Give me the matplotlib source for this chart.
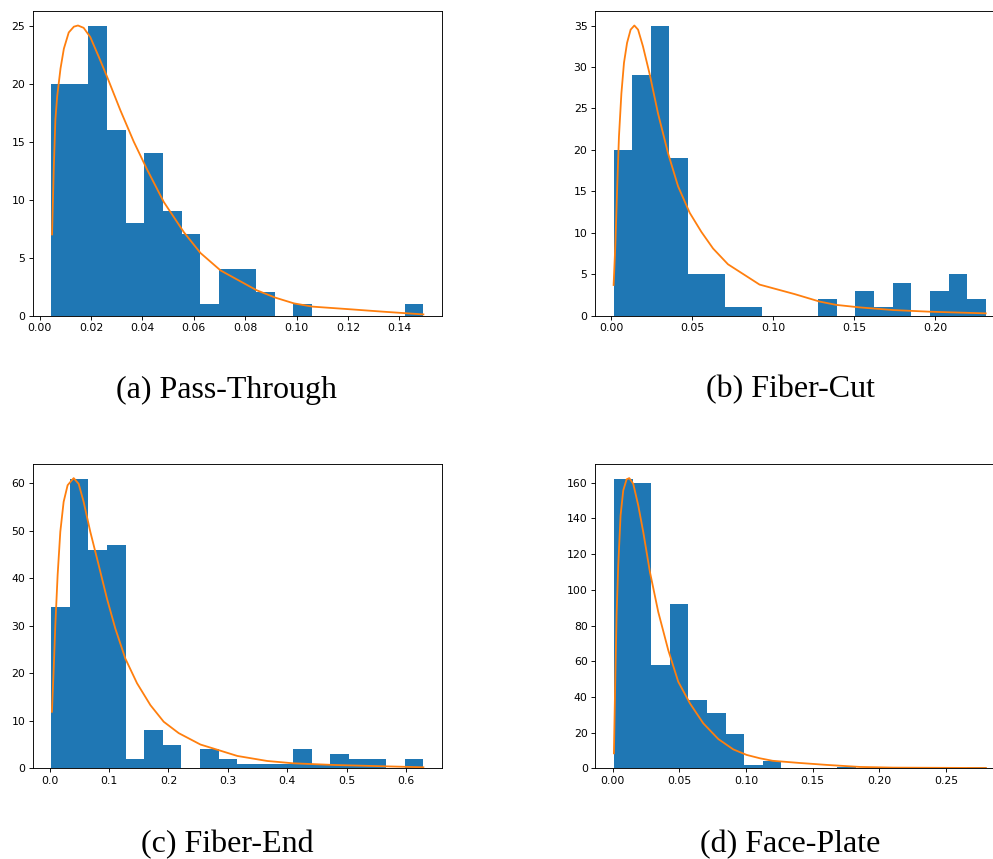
import numpy as np
import matplotlib
matplotlib.use("Agg")
import matplotlib.pyplot as plt


# (a) Pass-Through
pt_counts = [20, 20, 25, 16, 8, 14, 9, 7, 1, 4, 4, 2, 0, 1, 0, 0, 0, 0, 0, 1]
pt_range = (0.0045, 0.1494)
pt_curve_x = [0.0048, 0.0055, 0.0061, 0.0068, 0.0081, 0.0094, 0.0113, 0.0133,
              0.0149, 0.0171, 0.0197, 0.0230, 0.0262, 0.0314, 0.0366, 0.0418,
              0.0483, 0.0561, 0.0626, 0.0704, 0.0844, 0.0918, 0.0990, 0.1062,
              0.1210, 0.1340, 0.1494]
pt_curve_y = [7.0, 12.9, 16.9, 18.9, 21.3, 23.0, 24.4, 24.9,
              25.0, 24.8, 24.0, 22.3, 20.6, 17.7, 15.0, 12.6,
              9.8, 7.2, 5.4, 3.9, 2.2, 1.55, 1.06, 0.78,
              0.55, 0.34, 0.11]

# (b) Fiber-Cut
fc_counts = [20, 29, 35, 19, 5, 5, 1, 1, 0, 0, 0, 2, 0, 3, 1, 4, 0, 3, 5, 2]
fc_range = (0.0014, 0.2311)
fc_curve_x = [0.0014, 0.0025, 0.0037, 0.0047, 0.0062, 0.0078, 0.0097, 0.0119,
              0.0142, 0.0165, 0.0195, 0.0237, 0.0288, 0.0350, 0.0412, 0.0484,
              0.0556, 0.0628, 0.0720, 0.0915, 0.1132, 0.1286, 0.1389, 0.1533,
              0.1739, 0.1965, 0.2311]
fc_curve_y = [3.7, 8.7, 16.0, 21.6, 26.8, 30.5, 32.9, 34.5,
              35.0, 34.5, 32.5, 29.1, 24.4, 19.6, 15.6, 12.4,
              10.1, 8.1, 6.2, 3.75, 2.6, 1.7, 1.3, 1.0,
              0.68, 0.48, 0.28]

# (c) Fiber-End
fe_counts = [34, 61, 46, 47, 2, 8, 5, 0, 4, 2, 1, 1, 1, 4, 1, 3, 2, 2, 0, 2]
fe_range = (0.0028, 0.6292)
fe_curve_x = [0.0039, 0.0067, 0.0096, 0.0135, 0.0180, 0.0236, 0.0303, 0.0405,
              0.0489, 0.0573, 0.0685, 0.0826, 0.0966, 0.1107, 0.1275, 0.1472,
              0.1697, 0.1921, 0.2174, 0.2540, 0.2877, 0.3160, 0.3663, 0.4102,
              0.4787, 0.5630, 0.6293]
fe_curve_y = [11.9, 20.3, 30.1, 40.7, 49.8, 56.1, 59.6, 61.1,
              59.9, 56.1, 49.8, 42.8, 35.7, 29.4, 23.1, 17.9,
              13.3, 9.8, 7.4, 5.0, 3.7, 2.6, 1.54, 1.05,
              0.7, 0.42, 0.21]

# (d) Face-Plate
fp_counts = [162, 160, 58, 92, 38, 31, 19, 2, 4, 0, 0, 0, 1, 0, 0, 0, 0, 0, 0, 1]
fp_range = (0.0010, 0.2800)
fp_curve_x = [0.0010, 0.00175, 0.0030, 0.00425, 0.0060, 0.0080, 0.0105, 0.0125,
              0.0155, 0.01925, 0.0230, 0.0280, 0.03425, 0.04175, 0.04925, 0.0580,
              0.0680, 0.07925, 0.0905, 0.1005, 0.1105, 0.1200, 0.1400, 0.1605,
              0.1855, 0.2105, 0.2655, 0.2800]
fp_curve_y = [8.4, 39.2, 85.8, 113.8, 141.7, 155.7, 161.9, 162.6,
              159.4, 147.3, 132.4, 110.0, 87.6, 66.2, 48.5, 36.4,
              25.2, 16.4, 10.6, 7.5, 5.6, 4.2, 3.0, 1.9,
              0.75, 0.37, 0.2, 0.15]

captions = ["(a) Pass-Through", "(b) Fiber-Cut", "(c) Fiber-End", "(d) Face-Plate"]

BAR_COLOR = "#1f77b4"
LINE_COLOR = "#ff7f0e"


def draw_panel(ax, counts, rng, cx, cy):
    edges = np.linspace(rng[0], rng[1], len(counts) + 1)
    ax.hist(edges[:-1], bins=edges, weights=counts, color=BAR_COLOR)
    ax.plot(cx, cy, color=LINE_COLOR, linewidth=1.3)
    ax.tick_params(labelsize=7.8, length=2.8, width=0.65, pad=2.6)
    for sp in ax.spines.values():
        sp.set_linewidth(0.65)


def main():
    fig = plt.figure(figsize=(9.93, 8.59), dpi=100)

    w, h = 0.4122, 0.3547
    boxes = [
        [0.0329, 0.6325, w, h],
        [0.5992, 0.6325, w, h],
        [0.0329, 0.1056, w, h],
        [0.5995, 0.1056, w, h],
    ]
    panels = [
        (pt_counts, pt_range, pt_curve_x, pt_curve_y),
        (fc_counts, fc_range, fc_curve_x, fc_curve_y),
        (fe_counts, fe_range, fe_curve_x, fe_curve_y),
        (fp_counts, fp_range, fp_curve_x, fp_curve_y),
    ]
    for box, p in zip(boxes, panels):
        ax = fig.add_axes(box)
        draw_panel(ax, *p)

    # captions sit under each panel, like LaTeX subfigures
    cap_pos = [(0.2286, 0.546), (0.7956, 0.546), (0.2286, 0.0163), (0.7956, 0.0163)]
    for (x, y), txt in zip(cap_pos, captions):
        fig.text(x, y, txt, ha="center", va="center",
                 fontsize=23, family="Liberation Serif")

    fig.savefig("out.png", dpi=100)
    plt.close(fig)


if __name__ == "__main__":
    main()
